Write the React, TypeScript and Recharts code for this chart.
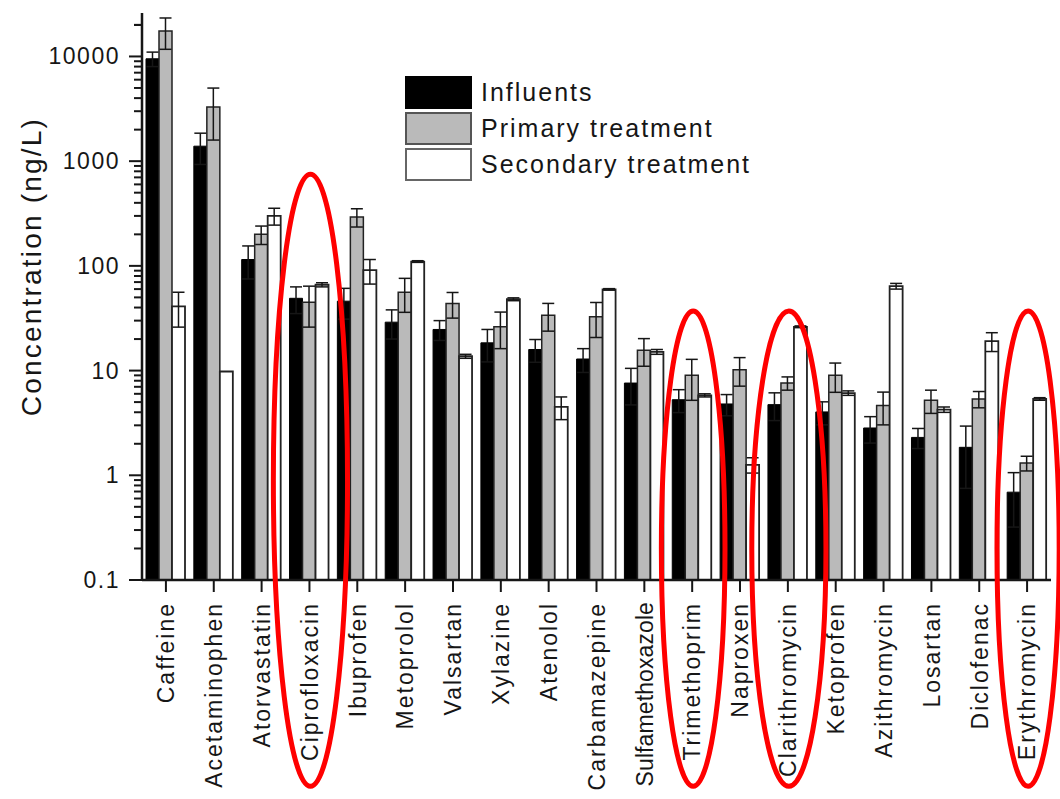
import { BarChart, Bar, XAxis, YAxis, ErrorBar, Legend, ReferenceArea } from 'recharts'

const categories = [
  'Caffeine', 'Acetaminophen', 'Atorvastatin', 'Ciprofloxacin', 'Ibuprofen', 'Metoprolol',
  'Valsartan', 'Xylazine', 'Atenolol', 'Carbamazepine', 'Sulfamethoxazole', 'Trimethoprim',
  'Naproxen', 'Clarithromycin', 'Ketoprofen', 'Azithromycin', 'Losartan', 'Diclofenac', 'Erythromycin',
]
const influents    = [9500, 1390, 115, 49, 46, 29, 24.7, 18.4, 15.9, 12.9, 7.6, 5.27, 4.8, 4.73, 4.03, 2.83, 2.3, 1.85, 0.69]
const influentsErr = [1500, 460, 40, 14, 15, 9, 5.3, 6.3, 3.9, 3.3, 2.9, 1.3, 1.1, 1.4, 1.0, 0.8, 0.5, 1.1, 0.37]
const primary      = [17500, 3290, 200, 45, 293, 56, 43.7, 26.2, 33.8, 32.7, 15.6, 9.0, 10.2, 7.6, 9.0, 4.63, 5.2, 5.36, 1.31]
const primaryErr   = [5800, 1700, 40, 19, 58, 20, 12, 10, 10, 12, 4.6, 3.8, 3.1, 1.1, 2.8, 1.6, 1.3, 0.95, 0.21]
const secondary    = [41, 9.8, 300, 66, 91, 110, 13.7, 48, 4.5, 59.6, 15.1, 5.8, 1.26, 26.2, 6.1, 64, 4.24, 19.1, 5.36]
const secondaryErr = [15, 0, 55, 3, 24, 2, 0.6, 1.5, 1.1, 1, 0.8, 0.2, 0.21, 0.5, 0.3, 4, 0.25, 3.9, 0.15]

// red highlight ellipses (annotation): category, top value, relative width
const circled      = ['Ciprofloxacin', 'Trimethoprim', 'Clarithromycin', 'Erythromycin']
const circleTop    = [750, 37, 37, 37]
const circleWidth  = [1.55, 1.33, 1.55, 1.3]
const CIRCLE_BOTTOM = 0.00107

const majorTicks = [0.1, 1, 10, 100, 1000, 10000]
const allTicks: number[] = []
majorTicks.forEach(m => { for (let k = 1; k <= 9; k++) if (m * k <= 26000) allTicks.push(+(m * k).toPrecision(3)) })
allTicks.push(20000)

const data = categories.map((name, i) => ({
  name,
  inf: influents[i], infErr: influentsErr[i],
  pri: primary[i], priErr: primaryErr[i],
  sec: secondary[i], secErr: secondaryErr[i],
}))

const FONT = '"Liberation Sans", Arial, Helvetica, sans-serif'
const INK = '#161616'
const GRAY = '#bababa'

function YTick({ x, y, payload }: any) {
  const v = payload.value
  const major = majorTicks.includes(v)
  return (
    <g>
      <line x1={x - (major ? 13 : 8)} x2={x} y1={y} y2={y} stroke={INK} strokeWidth={2} />
      {major && (
        <text x={x - 22} y={y} textAnchor="end" dominantBaseline="central"
          fontFamily={FONT} fontSize={23} letterSpacing={1.5} fill={INK}>{String(v)}</text>
      )}
    </g>
  )
}

function XTick({ x, y, payload }: any) {
  // long names get tighter spacing so they stay inside the picture
  const spacing = payload.value.length > 14 ? 0.1 : 2
  return (
    <g transform={`translate(${x},${y})`}>
      <line x1={0} x2={0} y1={0} y2={12} stroke={INK} strokeWidth={2} />
      <text transform="rotate(-90)" x={-22} y={0} dy="0.36em" textAnchor="end"
        fontFamily={FONT} fontSize={23} letterSpacing={spacing} fill={INK}>{payload.value}</text>
    </g>
  )
}

const legendStroke: Record<string, string> = { inf: '#000', pri: '#555', sec: '#666' }

function LegendBox({ payload }: any) {
  return (
    <div style={{ fontFamily: FONT }}>
      {(payload || []).map((e: any) => (
        <div key={e.dataKey} style={{ display: 'flex', alignItems: 'center', height: 36 }}>
          <div style={{
            width: 63, height: 29, background: e.color,
            border: `2px solid ${legendStroke[e.dataKey]}`,
          }} />
          <span style={{ marginLeft: 9, fontSize: 25, letterSpacing: 2, color: INK, lineHeight: '30px' }}>{e.value}</span>
        </div>
      ))}
    </div>
  )
}

function YTitle({ viewBox }: any) {
  const cx = viewBox.x + 31
  const cy = viewBox.y + viewBox.height / 2 - 30
  return (
    <text x={cx} y={cy} transform={`rotate(-90, ${cx}, ${cy})`} textAnchor="middle" dominantBaseline="central"
      fontFamily={FONT} fontSize={28} letterSpacing={2.2} fill={INK}>Concentration (ng/L)</text>
  )
}

export default function App() {
  return (
    <div style={{ position: 'absolute', left: 0, top: 0, width: 1060, height: 799, background: '#fff' }}>
      <BarChart width={1060} height={799} data={data} barGap={0} barSize={13}
        margin={{ top: 13, right: 9, left: 0, bottom: 0 }}>
        <XAxis dataKey="name" interval={0} height={219} tickSize={0} tickMargin={0} tickLine={false}
          tick={<XTick />} axisLine={{ stroke: INK, strokeWidth: 2.5 }} />
        <YAxis type="number" scale="log" domain={[0.1, 26000]} allowDataOverflow width={142}
          ticks={allTicks} interval={0} tickSize={0} tickMargin={0} tickLine={false}
          tick={<YTick />} axisLine={{ stroke: INK, strokeWidth: 2.5 }}
          label={{ content: <YTitle /> }} />
        <Legend layout="vertical" align="center" verticalAlign="middle" content={<LegendBox />}
          wrapperStyle={{ left: 405, top: 74, width: 'auto' }} />
        <Bar dataKey="inf" name="Influents" fill="#000" stroke="#000" strokeWidth={1} isAnimationActive={false}>
          <ErrorBar dataKey="infErr" width={6} strokeWidth={1.5} stroke={INK} />
        </Bar>
        <Bar dataKey="pri" name="Primary treatment" fill={GRAY} stroke="#222" strokeWidth={1.5} isAnimationActive={false}>
          <ErrorBar dataKey="priErr" width={6} strokeWidth={1.5} stroke={INK} />
        </Bar>
        <Bar dataKey="sec" name="Secondary treatment" fill="#fff" stroke="#222" strokeWidth={1.8} isAnimationActive={false}>
          <ErrorBar dataKey="secErr" width={6} strokeWidth={1.5} stroke={INK} />
        </Bar>
        {circled.map((c, i) => (
          <ReferenceArea key={c} x1={c} x2={c} y1={CIRCLE_BOTTOM} y2={circleTop[i]} ifOverflow="visible"
            zIndex={2000}
            shape={(p: any) => (
              <ellipse cx={p.x + p.width / 2 + 1} cy={p.y + p.height / 2} rx={(p.width * circleWidth[i]) / 2}
                ry={Math.abs(p.height) / 2} fill="none" stroke="#ff0000" strokeWidth={5} />
            )} />
        ))}
      </BarChart>
    </div>
  )
}
